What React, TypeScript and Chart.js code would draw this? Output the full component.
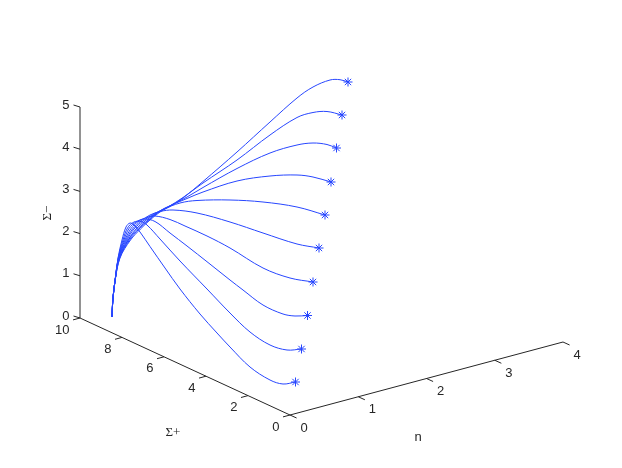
import React, { useEffect, useRef } from "react";
import { Chart, registerables } from "chart.js";

Chart.register(...registerables);

// Tick values of the three axes
const nTicks = [0, 1, 2, 3, 4];
const sigmaPlusTicks = [0, 2, 4, 6, 8, 10];
const sigmaMinusTicks = [0, 1, 2, 3, 4, 5];

// Ten trajectories, in projected view units
const shared: number[][] = [[112, 317], [112.5, 305], [113.3, 295], [115, 281]];
const curve1 = [...shared, [118, 258], [122, 240], [126, 227], [130, 223], [134, 225], [140, 232], [150, 246.5], [165, 268], [180, 289], [200, 314], [217, 333], [230, 347], [250, 367], [270, 380], [283, 384], [295.5, 382]];
const curve2 = [...shared, [118.2, 258], [123, 240], [127.5, 228], [134, 222], [141, 221.5], [147, 225], [160, 239], [180, 261], [207, 289], [230, 313], [250, 332], [270, 345], [287, 350], [301.5, 349]];
const curve3 = [...shared, [118.4, 258], [124, 240], [129, 228.5], [136, 222], [144, 219], [155, 221.5], [170, 233], [187, 246], [208, 262.5], [230, 280], [243, 290], [263, 305], [283, 314], [295, 316], [307.5, 315.5]];
const curve4 = [...shared, [118.6, 258], [125, 240], [131, 228.5], [139, 221], [147, 217.5], [155, 216], [170, 219.5], [185, 226], [207, 236], [230, 248], [263, 268], [290, 278], [313, 282]];
const curve5 = [...shared, [118.8, 258], [126, 240], [132.5, 229], [141, 221], [150, 215], [160, 211.5], [173, 210], [197, 213], [230, 222], [263, 233], [297, 244], [319, 248]];
const curve6 = [...shared, [119, 258], [127, 240], [134, 229], [143, 221], [152, 215], [163, 209.5], [180, 203], [197, 200.5], [230, 200], [263, 202], [297, 207], [325, 215]];
const curve7 = [...shared, [119.2, 258], [128, 240], [136, 229], [145, 221], [155, 214], [165, 208], [187, 198.5], [203, 192], [237, 181], [270, 176], [297, 175], [313, 177], [331, 182]];
const curve8 = [...shared, [119.5, 258], [128.5, 240], [137.5, 229], [147, 221], [157, 213], [167, 207.5], [187, 197], [203, 187.5], [237, 168.5], [270, 153], [297, 145], [313, 143], [327, 144.5], [336.5, 148]];
const curve9 = [...shared, [119.7, 258], [129.5, 240], [139, 229], [148.5, 220.5], [158, 212.5], [168, 207], [183, 197.5], [203, 183], [237, 160], [270, 135], [297, 117.5], [313, 112.5], [327, 111.5], [342, 115]];
const curve10 = [...shared, [120, 258], [130.5, 240], [140.5, 229], [150, 220], [160, 212], [170, 206.5], [183, 198], [203, 181.5], [237, 152], [270, 122], [297, 98], [313, 87], [330, 80], [340, 79.7], [348, 82]];
const curves = [curve1, curve2, curve3, curve4, curve5, curve6, curve7, curve8, curve9, curve10];

// Orthographic view of the three axes
const view = { ox: 290, oy: 415, nx: 68.25, ny: -18.25, sx: -21, sy: -9.7, zy: -42.2 };
const project = (n: number, s: number, z: number) => ({
  x: view.ox + n * view.nx + s * view.sx,
  y: view.oy + n * view.ny + s * view.sy + z * view.zy,
});

const AXIS = "#262626";
const BLUE = "#2746ff";
const pts = (a: number[][]) => a.map(([x, y]) => ({ x, y }));

const axisDataset = (data: { x: number; y: number }[]) => ({
  data,
  borderColor: AXIS,
  borderWidth: 1,
  pointRadius: 0,
  showLine: true,
  spanGaps: false,
  clip: false,
});

const withTicks = (
  a: { x: number; y: number },
  b: { x: number; y: number },
  ticks: { x: number; y: number }[],
  dx: number,
  dy: number,
) => {
  const out: any[] = [a, b];
  ticks.forEach((t) => {
    out.push({ x: NaN, y: NaN }, t, { x: t.x + dx, y: t.y + dy });
  });
  return out;
};

const labelsPlugin = {
  id: "axisText",
  afterDatasetsDraw(chart: any) {
    const { ctx, scales } = chart;
    const X = (v: number) => scales.x.getPixelForValue(v);
    const Y = (v: number) => scales.y.getPixelForValue(v);
    const sans = '13px "Liberation Sans", Arial, sans-serif';
    ctx.save();
    ctx.fillStyle = "#262626";
    ctx.font = sans;
    ctx.textBaseline = "middle";
    sigmaMinusTicks.forEach((z) => {
      const p = project(0, 10, z);
      ctx.textAlign = "right";
      ctx.fillText(String(z), X(p.x - 10.5), Y(p.y - 2));
    });
    sigmaPlusTicks.forEach((s) => {
      const p = project(0, s, 0);
      ctx.textAlign = "right";
      ctx.fillText(String(s), X(p.x - 10.5), Y(p.y + 12));
    });
    nTicks.forEach((n) => {
      const p = project(n, 0, 0);
      ctx.textAlign = "center";
      ctx.fillText(String(n), X(p.x + 14), Y(p.y + 13));
    });
    ctx.textAlign = "center";
    ctx.fillText("n", X(418), Y(437));
    ctx.font = '13px "Liberation Serif", serif';
    ctx.fillText("Σ+", X(173), Y(433));
    ctx.translate(X(48), Y(213));
    ctx.rotate(-Math.PI / 2);
    ctx.fillText("Σ−", 0, 0);
    ctx.restore();
  },
};

export default function App() {
  const ref = useRef<HTMLCanvasElement>(null);
  useEffect(() => {
    const zAxis = withTicks(
      project(0, 10, 0),
      project(0, 10, 5),
      sigmaMinusTicks.map((z) => project(0, 10, z)),
      -6.5,
      -2,
    );
    const sAxis = withTicks(
      project(0, 0, 0),
      project(0, 10, 0),
      sigmaPlusTicks.map((s) => project(0, s, 0)),
      -7,
      1.9,
    );
    const nAxis = withTicks(
      project(0, 0, 0),
      project(4, 0, 0),
      nTicks.map((n) => project(n, 0, 0)),
      6.6,
      3,
    );
    const chart = new Chart(ref.current as HTMLCanvasElement, {
      type: "scatter",
      data: {
        datasets: [
          axisDataset(zAxis),
          axisDataset(sAxis),
          axisDataset(nAxis),
          ...curves.map((c) => ({
            data: pts(c),
            borderColor: BLUE,
            borderWidth: 1,
            pointRadius: 0,
            showLine: true,
            tension: 0.35,
            clip: false,
          })),
          {
            data: pts(curves.map((c) => c[c.length - 1])),
            showLine: false,
            pointStyle: "star",
            pointRadius: 4.5,
            borderColor: BLUE,
            borderWidth: 1,
            backgroundColor: BLUE,
            clip: false,
          },
        ] as any,
      },
      options: {
        animation: false,
        responsive: false,
        layout: { padding: 0, autoPadding: false },
        plugins: { legend: { display: false }, tooltip: { enabled: false } },
        scales: {
          x: { type: "linear", min: 0, max: 622, display: false },
          y: { type: "linear", min: 0, max: 468, reverse: true, display: false },
        },
      },
      plugins: [labelsPlugin],
    } as any);
    return () => chart.destroy();
  }, []);
  return (
    <canvas
      ref={ref}
      width={622}
      height={468}
      style={{ position: "absolute", left: 0, top: 0, display: "block", background: "#fff" }}
    />
  );
}
